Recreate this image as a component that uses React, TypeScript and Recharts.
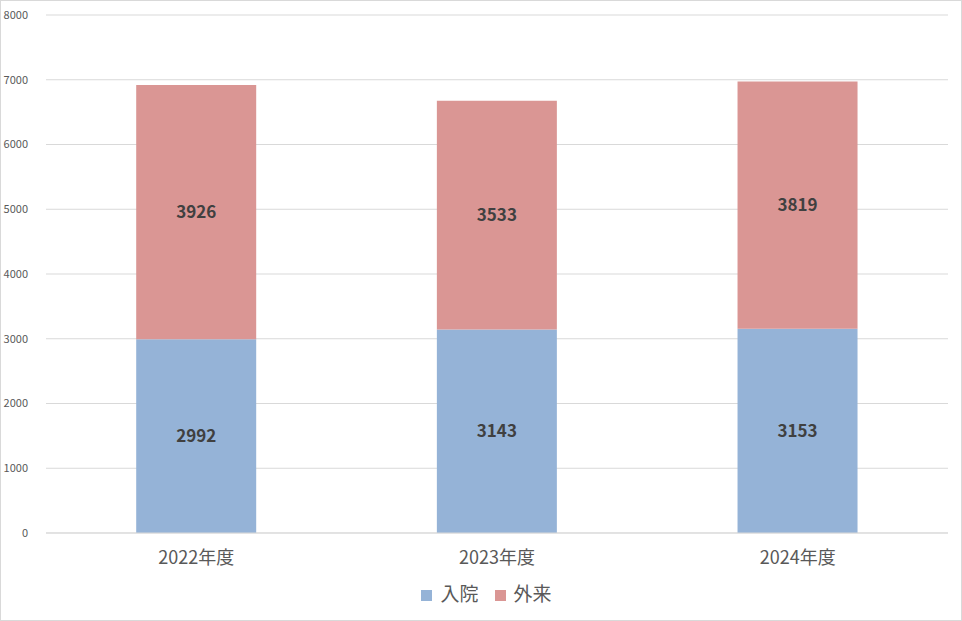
import { Bar, BarChart, CartesianGrid, LabelList, Legend, XAxis, YAxis } from 'recharts';

const years = ['2022年度', '2023年度', '2024年度'];
const inpatient = [2992, 3143, 3153];
const outpatient = [3926, 3533, 3819];
const yTicks = [0, 1000, 2000, 3000, 4000, 5000, 6000, 7000, 8000];

const data = years.map((year, i) => ({
  year,
  入院: inpatient[i],
  外来: outpatient[i],
}));

const font = '"Noto Sans CJK JP", "Noto Sans", sans-serif';

export default function App() {
  return (
    <div
      style={{
        width: 962,
        height: 621,
        border: '1px solid #d9d9d9',
        boxSizing: 'border-box',
        background: '#fff',
        fontFamily: font,
      }}
    >
      <style>{'body{margin:0}'}</style>
      <BarChart
        width={960}
        height={619}
        data={data}
        margin={{ top: 14, right: 13, left: 0, bottom: 14 }}
        barCategoryGap="30%"
      >
        <CartesianGrid vertical={false} stroke="#d9d9d9" />
        <XAxis
          dataKey="year"
          axisLine={{ stroke: '#d9d9d9' }}
          tickLine={false}
          height={46}
          tick={{ fill: '#595959', fontSize: 18, fontFamily: font }}
          tickMargin={12}
        />
        <YAxis
          width={45}
          domain={[0, 8000]}
          ticks={yTicks}
          axisLine={false}
          tickLine={false}
          tickMargin={12}
          tick={{ fill: '#595959', fontSize: 11, fontFamily: font }}
        />
        <Legend
          verticalAlign="bottom"
          iconType="square"
          iconSize={11}
          wrapperStyle={{ fontSize: 19, color: '#595959', fontFamily: font, paddingLeft: 20 }}
          formatter={(value) => (
            <span style={{ color: '#595959', marginLeft: 4, marginRight: 6 }}>{value}</span>
          )}
        />
        <Bar dataKey="入院" stackId="a" fill="#95B3D7" isAnimationActive={false}>
          <LabelList
            dataKey="入院"
            position="center"
            fill="#404040"
            fontSize={17}
            fontWeight="bold"
            fontFamily={font}
          />
        </Bar>
        <Bar dataKey="外来" stackId="a" fill="#DA9694" isAnimationActive={false}>
          <LabelList
            dataKey="外来"
            position="center"
            fill="#404040"
            fontSize={17}
            fontWeight="bold"
            fontFamily={font}
          />
        </Bar>
      </BarChart>
    </div>
  );
}
